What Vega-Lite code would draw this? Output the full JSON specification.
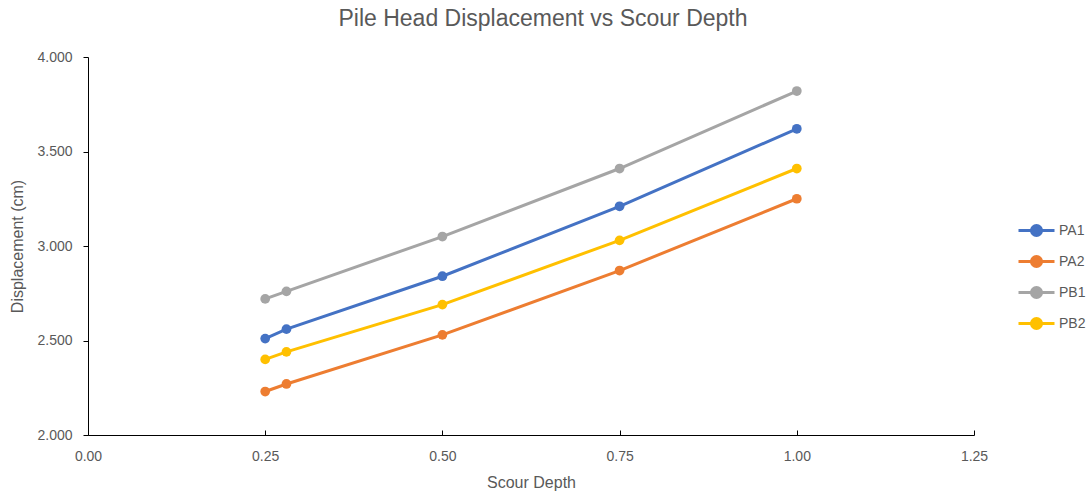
{
  "$schema": "https://vega.github.io/schema/vega-lite/v6.json",
  "width": 886,
  "height": 378,
  "autosize": {"type": "none"},
  "padding": {"left": 88, "top": 57, "right": 113, "bottom": 59},
  "background": "white",
  "title": {
    "text": "Pile Head Displacement vs Scour Depth",
    "font": "Liberation Sans",
    "fontSize": 23,
    "fontWeight": "normal",
    "color": "#595959",
    "anchor": "middle",
    "dx": 12,
    "offset": 19
  },
  "config": {
    "view": {"stroke": null},
    "axis": {
      "labelFont": "Liberation Sans",
      "titleFont": "Liberation Sans",
      "labelColor": "#595959",
      "titleColor": "#595959",
      "labelFontSize": 14,
      "titleFontSize": 16,
      "titleFontWeight": "normal",
      "grid": false,
      "domainColor": "#000000",
      "tickColor": "#000000",
      "domainWidth": 1,
      "tickWidth": 1,
      "labelFlush": false
    },
    "legend": {
      "labelFont": "Liberation Sans",
      "labelFontSize": 14,
      "labelColor": "#595959"
    }
  },
  "data": {
    "values": [
      {"depth": 0.25, "disp": 2.51, "series": "PA1"},
      {"depth": 0.28, "disp": 2.56, "series": "PA1"},
      {"depth": 0.50, "disp": 2.84, "series": "PA1"},
      {"depth": 0.75, "disp": 3.21, "series": "PA1"},
      {"depth": 1.00, "disp": 3.62, "series": "PA1"},
      {"depth": 0.25, "disp": 2.23, "series": "PA2"},
      {"depth": 0.28, "disp": 2.27, "series": "PA2"},
      {"depth": 0.50, "disp": 2.53, "series": "PA2"},
      {"depth": 0.75, "disp": 2.87, "series": "PA2"},
      {"depth": 1.00, "disp": 3.25, "series": "PA2"},
      {"depth": 0.25, "disp": 2.72, "series": "PB1"},
      {"depth": 0.28, "disp": 2.76, "series": "PB1"},
      {"depth": 0.50, "disp": 3.05, "series": "PB1"},
      {"depth": 0.75, "disp": 3.41, "series": "PB1"},
      {"depth": 1.00, "disp": 3.82, "series": "PB1"},
      {"depth": 0.25, "disp": 2.40, "series": "PB2"},
      {"depth": 0.28, "disp": 2.44, "series": "PB2"},
      {"depth": 0.50, "disp": 2.69, "series": "PB2"},
      {"depth": 0.75, "disp": 3.03, "series": "PB2"},
      {"depth": 1.00, "disp": 3.41, "series": "PB2"}
    ]
  },
  "mark": {
    "type": "line",
    "strokeWidth": 3,
    "point": {"filled": true, "size": 95, "opacity": 1}
  },
  "encoding": {
    "x": {
      "field": "depth",
      "type": "quantitative",
      "title": "Scour Depth",
      "scale": {"domain": [0, 1.25], "nice": false, "zero": false},
      "axis": {
        "values": [0, 0.25, 0.5, 0.75, 1.0, 1.25],
        "format": ".2f",
        "tickSize": -5,
        "labelPadding": 19,
        "titleY": 39
      }
    },
    "y": {
      "field": "disp",
      "type": "quantitative",
      "title": "Displacement (cm)",
      "scale": {"domain": [2, 4], "nice": false, "zero": false},
      "axis": {
        "values": [2, 2.5, 3, 3.5, 4],
        "format": ".3f",
        "tickSize": 5,
        "labelPadding": 11,
        "titleX": -63
      }
    },
    "color": {
      "field": "series",
      "type": "nominal",
      "title": null,
      "scale": {
        "domain": ["PA1", "PA2", "PB1", "PB2"],
        "range": ["#4472C4", "#ED7D31", "#A5A5A5", "#FFC000"]
      },
      "legend": {
        "orient": "none",
        "legendX": 929,
        "legendY": 154,
        "symbolType": "M-1,0L1,0M0.28,0A0.28,0.28,0,1,1,-0.28,0A0.28,0.28,0,1,1,0.28,0Z",
        "symbolSize": 1296,
        "symbolStrokeWidth": 3,
        "rowPadding": -5,
        "labelOffset": 3,
        "encode": {
          "symbols": {
            "update": {
              "fill": {"scale": "color", "field": "value"},
              "stroke": {"scale": "color", "field": "value"},
              "opacity": {"value": 1}
            }
          }
        }
      }
    }
  }
}
